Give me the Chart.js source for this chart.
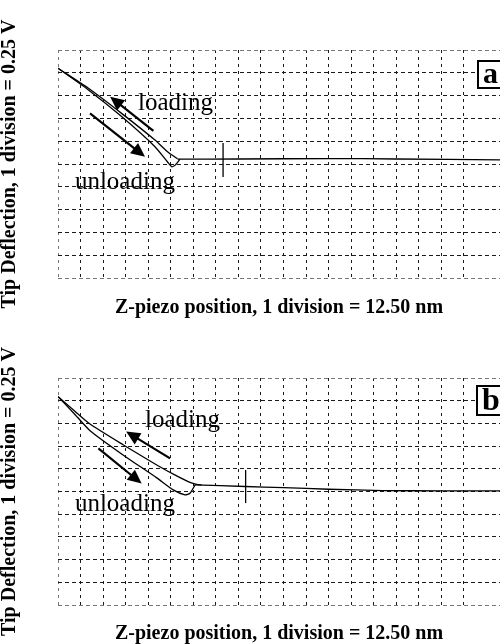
<!DOCTYPE html>
<html><head><meta charset="utf-8">
<script src="https://cdn.jsdelivr.net/npm/chart.js@4.4.1/dist/chart.umd.min.js"></script>
<style>
html,body{margin:0;padding:0;background:#fff;overflow:hidden;width:500px;height:644px;}
canvas{position:absolute;left:0;}
#ca{top:0px}
#cb{top:322px}
</style></head><body>
<canvas id="ca" width="500" height="322"></canvas>
<canvas id="cb" width="500" height="322"></canvas>
<script>
// ---- text ----
const xTitle = 'Z-piezo position, 1 division = 12.50 nm';
const yTitle = 'Tip Deflection, 1 division = 0.25 V';
const loadLabel = 'loading';
const unloadLabel = 'unloading';

// ---- axis extents (in divisions) ----
const xMax = 19.6;
const yMin = 0, yMax = 10;

// ---- panel a data (divisions) ----
const loadA_x   = [0, 1.35, 2.82, 4.30, 4.90, 5.30];
const loadA_y   = [9.20, 8.32, 7.22, 6.05, 5.50, 5.23];
const unloadA_x = [0, 1.35, 2.82, 4.30, 4.85, 5.04, 5.20, 5.41];
const unloadA_y = [9.20, 8.25, 7.08, 5.76, 5.10, 4.88, 4.95, 5.21];
const flatA_x   = [5.30, 8.0, 12.0, 15.0, 19.6];
const flatA_y   = [5.21, 5.22, 5.24, 5.22, 5.18];
const markA_x   = [7.32, 7.32];
const markA_y   = [5.92, 4.43];

// ---- panel b data (divisions) ----
const loadB_x   = [0, 0.70, 1.42, 2.90, 4.38, 5.20, 5.85, 6.15, 6.37];
const loadB_y   = [9.18, 8.58, 7.97, 7.05, 6.17, 5.72, 5.40, 5.31, 5.29];
const unloadB_x = [0, 0.70, 1.42, 2.90, 4.38, 5.11, 5.63, 5.85, 6.08];
const unloadB_y = [9.18, 8.45, 7.68, 6.60, 5.60, 5.07, 4.85, 4.92, 5.29];
const flatB_x   = [6.08, 8.3, 10.0, 12.0, 14.4, 17.0, 19.6];
const flatB_y   = [5.29, 5.22, 5.17, 5.10, 5.04, 5.03, 5.03];
const markB_x   = [8.32, 8.32];
const markB_y   = [5.95, 4.49];

// ---- annotations (divisions): arrows [x1,y1,x2,y2], labels [x,y,text] ----
const arrowsA = [[4.23, 6.45, 2.31, 7.95], [1.42, 7.22, 3.86, 5.32]];
const labelsA = [[3.55, 7.36, loadLabel], [0.75, 3.90, unloadLabel]];
const arrowsB = [[4.97, 6.46, 3.02, 7.64], [1.79, 6.90, 3.71, 5.35]];
const labelsB = [[3.86, 7.84, loadLabel], [0.75, 4.14, unloadLabel]];

function pts(xs, ys){ return xs.map((x,i)=>({x:x, y:ys[i]})); }

const annotPlugin = {
  id: 'annot',
  afterDatasetsDraw(chart, args, opts){
    const ctx = chart.ctx, xs = chart.scales.x, ys = chart.scales.y;
    ctx.save();
    ctx.strokeStyle = '#000'; ctx.fillStyle = '#000'; ctx.lineWidth = 2.2;
    opts.arrows.forEach(a=>{
      const x1 = xs.getPixelForValue(a[0]), y1 = ys.getPixelForValue(a[1]);
      const x2 = xs.getPixelForValue(a[2]), y2 = ys.getPixelForValue(a[3]);
      const ang = Math.atan2(y2-y1, x2-x1), head = 14, hw = 6.5;
      ctx.beginPath(); ctx.moveTo(x1,y1);
      ctx.lineTo(x2 - head*0.8*Math.cos(ang), y2 - head*0.8*Math.sin(ang)); ctx.stroke();
      ctx.beginPath(); ctx.moveTo(x2,y2);
      ctx.lineTo(x2 - head*Math.cos(ang) + hw*Math.sin(ang), y2 - head*Math.sin(ang) - hw*Math.cos(ang));
      ctx.lineTo(x2 - head*Math.cos(ang) - hw*Math.sin(ang), y2 - head*Math.sin(ang) + hw*Math.cos(ang));
      ctx.closePath(); ctx.fill();
    });
    ctx.font = '25px "Liberation Serif", "Times New Roman", serif';
    ctx.textBaseline = 'alphabetic'; ctx.textAlign = 'left';
    opts.labels.forEach(l=>{
      ctx.fillText(l[2], xs.getPixelForValue(l[0]), ys.getPixelForValue(l[1]));
    });
    // panel tag box
    const ca = chart.chartArea;
    const t = opts.tag;
    ctx.fillStyle = '#fff';
    ctx.fillRect(t.left, ca.top + t.top, 30, t.h);
    ctx.strokeStyle = '#000'; ctx.lineWidth = 2;
    ctx.strokeRect(t.left, ca.top + t.top, 30, t.h);
    ctx.fillStyle = '#000';
    ctx.font = 'bold ' + t.size + 'px "Liberation Serif", "Times New Roman", serif';
    ctx.fillText(t.text, t.left + 5, ca.top + t.top + t.h - 5);
    ctx.restore();
  }
};

const gridColor = c => {
  const v = c.tick.value;
  if (Math.abs(v - Math.round(v)) > 1e-6) return 'rgba(0,0,0,0)';
  return '#1a1a1a';
};
const yGridColor = c => (c.tick.value === yMin || c.tick.value === yMax) ? '#777' : '#1a1a1a';
const xGridColor = c => c.tick.value === 0 ? '#777' : gridColor(c);

function makeChart(id, series, padTop, xScaleH, xTitlePadBottom, arrows, labels, tag){
  const datasets = series.map(s=>({
    data: s, showLine: true, pointRadius: 0, borderColor: '#000', borderWidth: 1.3,
    tension: 0.2, fill: false
  }));
  return new Chart(document.getElementById(id), {
    type: 'scatter',
    data: { datasets },
    options: {
      responsive: false, animation: false, devicePixelRatio: 1,
      layout: { padding: { top: padTop, left: 0, right: 0, bottom: 0 } },
      plugins: { legend: {display:false}, tooltip: {enabled:false},
        annot: { arrows, labels, tag } },
      scales: {
        x: {
          type: 'linear', min: 0, max: xMax,
          ticks: { display: false, stepSize: 1 },
          grid: { color: xGridColor, drawTicks: false, lineWidth: 1 },
          border: { display: false, dash: [3, 4] },
          title: { display: true, text: xTitle, color: '#000',
            font: { family: '"Liberation Serif", "Times New Roman", serif', size: 20, weight: 'bold', lineHeight: 1 },
            padding: { top: 0, bottom: xTitlePadBottom } },
          afterFit: s => { s.height = xScaleH; }
        },
        y: {
          type: 'linear', min: yMin, max: yMax,
          ticks: { display: false, stepSize: 1 },
          grid: { color: yGridColor, drawTicks: false, lineWidth: 1 },
          border: { display: false, dash: [4, 3] },
          title: { display: true, text: yTitle, color: '#000',
            font: { family: '"Liberation Serif", "Times New Roman", serif', size: 20, weight: 'bold', lineHeight: 1 },
            padding: { top: 0, bottom: 0 } },
          afterFit: s => { s.width = 58; }
        }
      }
    },
    plugins: [annotPlugin]
  });
}

makeChart('ca',
  [pts(loadA_x, loadA_y), pts(unloadA_x, unloadA_y), pts(flatA_x, flatA_y), pts(markA_x, markA_y)],
  50, 44, 4, arrowsA, labelsA, {text:'a', left: 478, top: 11, h: 27, size: 30});
makeChart('cb',
  [pts(loadB_x, loadB_y), pts(unloadB_x, unloadB_y), pts(flatB_x, flatB_y), pts(markB_x, markB_y)],
  56, 39, 0, arrowsB, labelsB, {text:'b', left: 477, top: 8, h: 29, size: 32});
</script>
</body></html>
